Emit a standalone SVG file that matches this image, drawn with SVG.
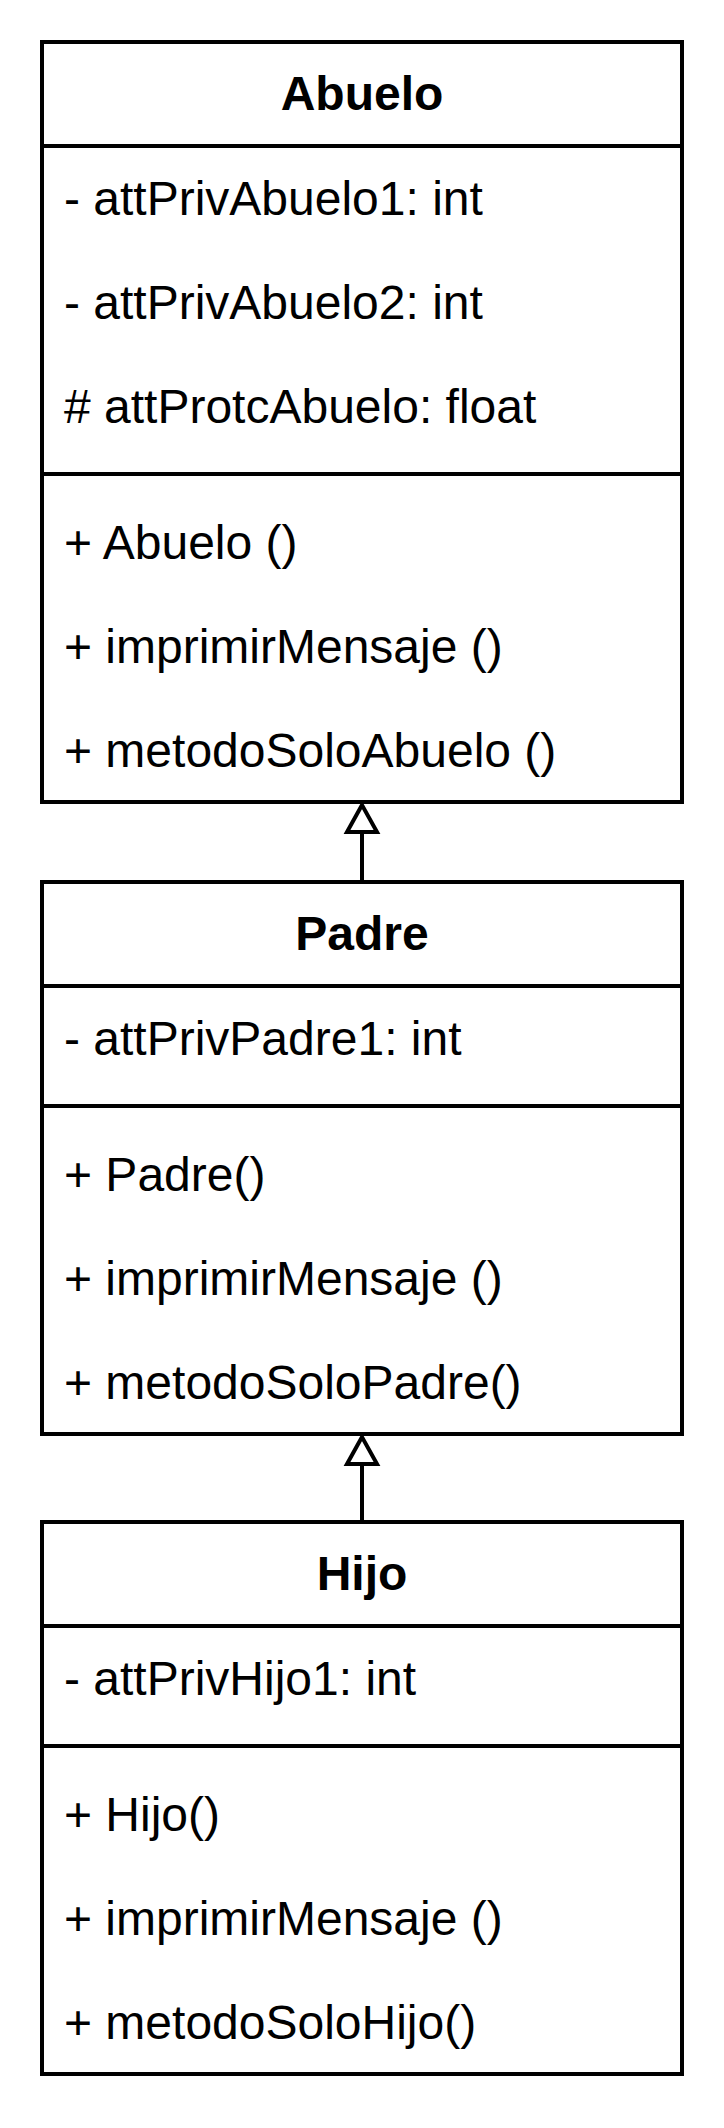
<svg xmlns="http://www.w3.org/2000/svg" width="724" height="2128" viewBox="0 0 724 2128">
<style>
.box{fill:#fff;stroke:#000;stroke-width:4}
.ln{stroke:#000;stroke-width:4;fill:none}
.hd{font-family:"Liberation Sans",Arial,sans-serif;font-size:48px;font-weight:bold;text-anchor:middle;fill:#000}
.tx{font-family:"Liberation Sans",Arial,sans-serif;font-size:48px;fill:#000}
.tri{fill:#fff;stroke:#000;stroke-width:4;stroke-linejoin:miter}
</style>
<rect width="724" height="2128" fill="#fff"/>
<g id="connectors">
<line class="ln" x1="362" y1="882" x2="362" y2="832"/>
<polygon class="tri" points="362,805 347,832 377,832"/>
<line class="ln" x1="362" y1="1522" x2="362" y2="1464"/>
<polygon class="tri" points="362,1437 347,1464 377,1464"/>
</g>
<g id="abuelo">
<rect class="box" x="42" y="42" width="640" height="760"/>
<line class="ln" x1="42" y1="146" x2="682" y2="146"/>
<line class="ln" x1="42" y1="474" x2="682" y2="474"/>
<text class="hd" x="362" y="110">Abuelo</text>
<text class="tx" x="64" y="215">- attPrivAbuelo1: int</text>
<text class="tx" x="64" y="319">- attPrivAbuelo2: int</text>
<text class="tx" x="64" y="423"># attProtcAbuelo: float</text>
<text class="tx" x="64" y="559">+ Abuelo ()</text>
<text class="tx" x="64" y="663">+ imprimirMensaje ()</text>
<text class="tx" x="64" y="767">+ metodoSoloAbuelo ()</text>
</g>
<g id="padre">
<rect class="box" x="42" y="882" width="640" height="552"/>
<line class="ln" x1="42" y1="986" x2="682" y2="986"/>
<line class="ln" x1="42" y1="1106" x2="682" y2="1106"/>
<text class="hd" x="362" y="950">Padre</text>
<text class="tx" x="64" y="1055">- attPrivPadre1: int</text>
<text class="tx" x="64" y="1191">+ Padre()</text>
<text class="tx" x="64" y="1295">+ imprimirMensaje ()</text>
<text class="tx" x="64" y="1399">+ metodoSoloPadre()</text>
</g>
<g id="hijo">
<rect class="box" x="42" y="1522" width="640" height="552"/>
<line class="ln" x1="42" y1="1626" x2="682" y2="1626"/>
<line class="ln" x1="42" y1="1746" x2="682" y2="1746"/>
<text class="hd" x="362" y="1590">Hijo</text>
<text class="tx" x="64" y="1695">- attPrivHijo1: int</text>
<text class="tx" x="64" y="1831">+ Hijo()</text>
<text class="tx" x="64" y="1935">+ imprimirMensaje ()</text>
<text class="tx" x="64" y="2039">+ metodoSoloHijo()</text>
</g>
</svg>
